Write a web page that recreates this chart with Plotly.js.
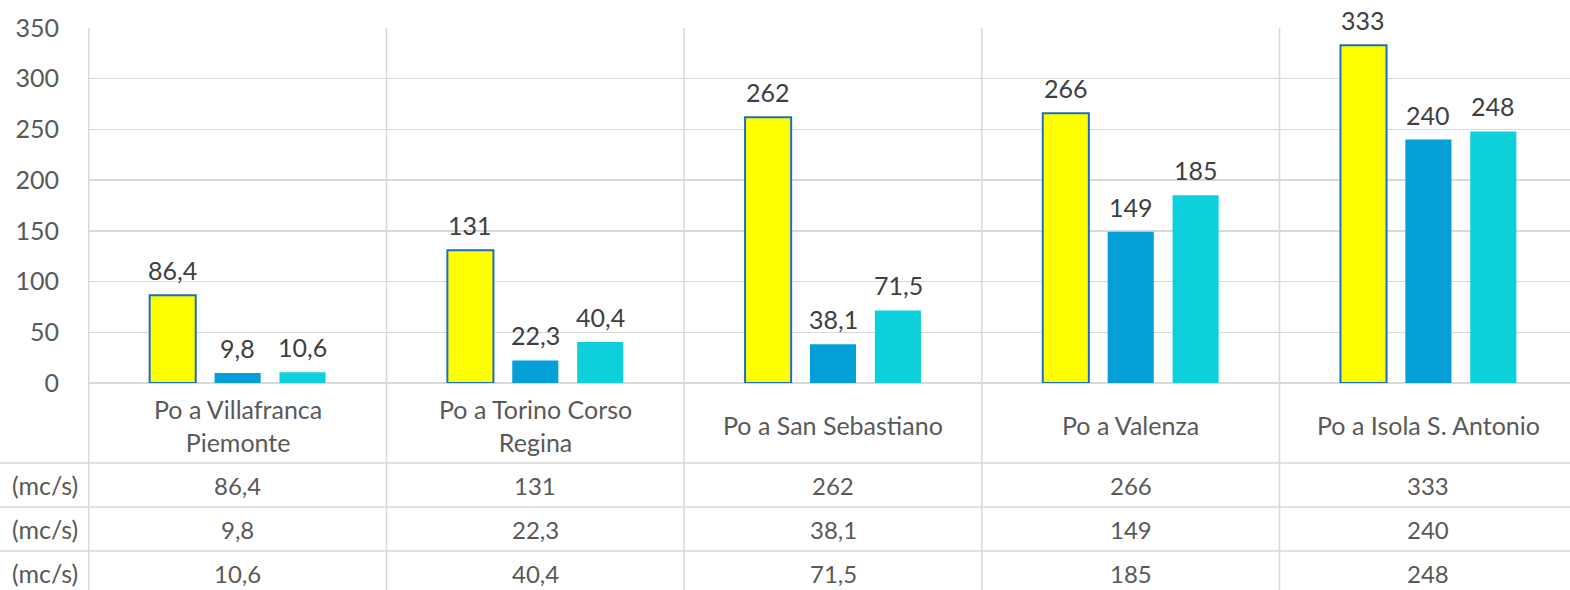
<!DOCTYPE html>
<html><head><meta charset="utf-8">
<script src="https://cdn.plot.ly/plotly-3.0.1.min.js"></script>
<style>html,body{margin:0;padding:0;overflow:hidden;background:#fff}#chart{width:1578px;height:590px}</style>
</head><body><div id="chart"></div>
<script>
const categories = ['Po a Villafranca<br>Piemonte', 'Po a Torino Corso<br>Regina', 'Po a San Sebastiano', 'Po a Valenza', 'Po a Isola S. Antonio'];
const seriesA = [86.4, 131, 262, 266, 333];
const seriesB = [9.8, 22.3, 38.1, 149, 240];
const seriesC = [10.6, 40.4, 71.5, 185, 248];
const rowLabels = ['(mc/s)', '(mc/s)', '(mc/s)'];
const yTicks = [0, 50, 100, 150, 200, 250, 300, 350];

const FONT = 'Lato, "Open Sans", sans-serif';
const W = 1578, H = 590, L = 88, T = 28, B = 207;
const PH = H - T - B, PW = W - L;
const py = p => (H - B - p) / PH;
const px = p => (p - L) / PW;
const fmt = v => String(v).replace('.', ',');
const GRID = '#d9d9d9';

const colors = ['#ffff00', '#039fd6', '#0dd0da'];
const series = [seriesA, seriesB, seriesC];

const traces = series.map((s, i) => ({
  type: 'bar', x: categories, y: s, name: 'S' + (i + 1),
  marker: {color: colors[i], line: {color: i === 0 ? '#1f6cc4' : colors[i], width: i === 0 ? 2 : 0}},
  hoverinfo: 'skip'
}));

const annotations = [];
const shapes = [];
// data labels
series.forEach((s, i) => s.forEach((v, j) => annotations.push({
  xref: 'x', yref: 'y', x: categories[j], y: v, xshift: (i - 1) * 65, yshift: 8,
  yanchor: 'bottom', showarrow: false, text: fmt(v),
  font: {family: FONT, size: 25, color: '#404040'}
})));
// category labels in table
categories.forEach(c => annotations.push({
  xref: 'x', yref: 'paper', x: c, y: py(425), yanchor: 'middle', showarrow: false,
  text: c, font: {family: FONT, size: 25, color: '#595959'}
}));
// table rows
const rowCenters = [485, 529, 573];
series.forEach((s, i) => {
  annotations.push({
    xref: 'paper', yref: 'paper', x: px(80), y: py(rowCenters[i]), xanchor: 'right', yanchor: 'middle',
    showarrow: false, text: rowLabels[i], font: {family: FONT, size: 25, color: '#595959'}
  });
  s.forEach((v, j) => annotations.push({
    xref: 'x', yref: 'paper', x: categories[j], y: py(rowCenters[i]), yanchor: 'middle',
    showarrow: false, text: fmt(v), font: {family: FONT, size: 24, color: '#595959'}
  }));
});
// vertical separators
for (let k = 0; k <= categories.length; k++) {
  shapes.push({type: 'line', xref: 'x', yref: 'paper', x0: k - 0.5, x1: k - 0.5, y0: 1, y1: py(600),
    line: {color: GRID, width: 1.5}});
}
// horizontal table lines
[463, 507, 551].forEach(p => shapes.push({type: 'line', xref: 'paper', yref: 'paper', x0: px(0), x1: 1,
  y0: py(p), y1: py(p), line: {color: GRID, width: 1.5}}));

const layout = {
  width: W, height: H, margin: {l: L, r: 0, t: T, b: B}, showlegend: false,
  paper_bgcolor: '#fff', plot_bgcolor: '#fff',
  barmode: 'group', bargap: 0.346, bargroupgap: 0.29,
  xaxis: {type: 'category', showticklabels: false, showgrid: false, zeroline: false, showline: false, ticks: ''},
  yaxis: {range: [0, 350], tickvals: yTicks, ticktext: yTicks.map(fmt), showgrid: true, gridcolor: GRID, gridwidth: 1.5,
    zeroline: true, zerolinecolor: GRID, zerolinewidth: 1.5, showline: false, ticks: '', ticklabelstandoff: 28,
    tickfont: {family: FONT, size: 25, color: '#595959'}},
  annotations, shapes
};
Plotly.newPlot('chart', traces, layout, {staticPlot: true, displayModeBar: false});
</script></body></html>
